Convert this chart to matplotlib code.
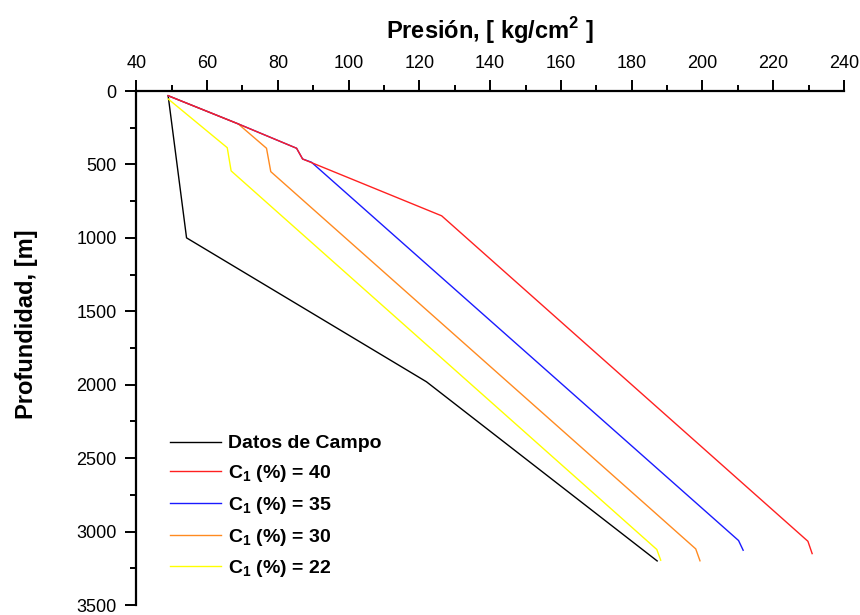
import matplotlib
matplotlib.use("Agg")
import matplotlib.pyplot as plt
from matplotlib.ticker import MultipleLocator

plt.rcParams['font.family'] = ['Liberation Sans', 'DejaVu Sans']
plt.rcParams['mathtext.fontset'] = 'custom'
plt.rcParams['mathtext.rm'] = 'Liberation Sans'
plt.rcParams['mathtext.bf'] = 'Liberation Sans:bold'

# Datos de Campo
campo_p = [49.0, 54.2, 122.0, 187.2]
campo_d = [32, 1000, 1980, 3200]
# C1 = 40 %
c40_p = [49.0, 68.8, 85.3, 87.0, 126.3, 229.8, 231.0]
c40_d = [32, 224, 390, 463, 850, 3066, 3150]
# C1 = 35 %
c35_p = [49.0, 68.8, 85.3, 87.0, 89.5, 210.2, 211.5]
c35_d = [32, 224, 390, 463, 485, 3061, 3127]
# C1 = 30 %
c30_p = [49.0, 68.8, 76.8, 78.0, 198.1, 199.3]
c30_d = [32, 224, 390, 549, 3118, 3199]
# C1 = 22 %
c22_p = [49.0, 65.7, 66.8, 187.1, 188.2]
c22_d = [54, 386, 544, 3122, 3195]

series = [
    (campo_p, campo_d, 'black', 'Datos de Campo'),
    (c40_p, c40_d, '#ff2020', r'C$_\mathbf{1}$ (%) = 40'),
    (c35_p, c35_d, '#1a1aff', r'C$_\mathbf{1}$ (%) = 35'),
    (c30_p, c30_d, '#ff8a20', r'C$_\mathbf{1}$ (%) = 30'),
    (c22_p, c22_d, '#ffff00', r'C$_\mathbf{1}$ (%) = 22'),
]

fig = plt.figure(figsize=(8.6, 6.15), dpi=100)
ax = fig.add_axes([136.3/860, 1-605/615, (844-136.3)/860, (605-91)/615])

# draw order: last drawn on top (red over blue where overlapping)
for p, d, c, lab in [series[0], series[4], series[3], series[2], series[1]]:
    ax.plot(p, d, color=c, lw=1.0, label=lab)

ax.set_xlim(40, 240)
ax.set_ylim(3500, 0)
ax.xaxis.tick_top()
ax.xaxis.set_label_position('top')
ax.xaxis.set_major_locator(MultipleLocator(20))
ax.xaxis.set_minor_locator(MultipleLocator(10))
ax.yaxis.set_major_locator(MultipleLocator(500))
ax.yaxis.set_minor_locator(MultipleLocator(250))
for s in ['right', 'bottom']:
    ax.spines[s].set_visible(False)
for s in ['left', 'top']:
    ax.spines[s].set_linewidth(1.6)
ax.tick_params(which='major', length=8, width=1.4, labelsize=13)
ax.tick_params(which='minor', length=4.5, width=1.4)
ax.tick_params(axis='x', which='major', pad=6)
ax.tick_params(axis='y', which='major', pad=6)

ax.set_xlabel(r'Presión, [ kg/cm$^\mathbf{2}$ ]', fontsize=17, fontweight='bold', labelpad=11)
ax.set_ylabel('Profundidad, [m]', fontsize=17, fontweight='bold')
ax.yaxis.set_label_coords((38-136.3)/707.7, 1-(324-91)/514)

h, l = ax.get_legend_handles_labels()
order = ['Datos de Campo'] + [s[3] for s in series[1:]]
hd = dict(zip(l, h))
leg = ax.legend([hd[k] for k in order], order, loc='center left',
                bbox_to_anchor=((170-136.3)/707.7, 1-(507-91)/514),
                frameon=False, borderpad=0, borderaxespad=0,
                handlelength=2.6, handletextpad=0.36, labelspacing=0.55,
                prop={'weight': 'bold', 'size': 14})

fig.savefig('out.png', dpi=100)
